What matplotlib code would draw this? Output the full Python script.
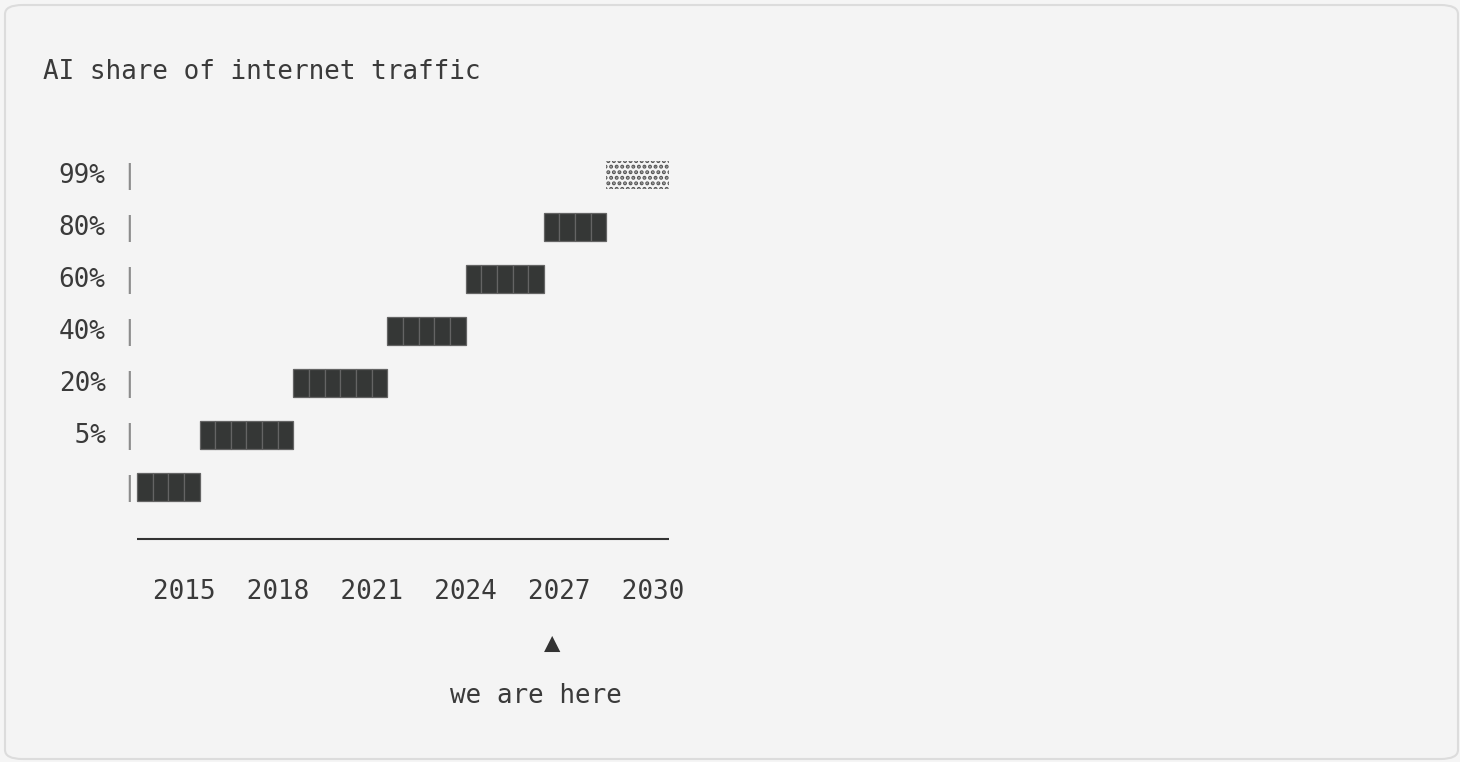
import numpy as np
import matplotlib.pyplot as plt
from matplotlib.patches import FancyBboxPatch

# chart content
title = 'AI share of internet traffic'
row_labels = ['', '5%', '20%', '40%', '60%', '80%', '99%']   # bottom -> top
row_blocks = [4, 6, 6, 5, 5, 4, 4]                           # block count per row
row_shaded = [False, False, False, False, False, False, True]
year_labels = ['2015', '2018', '2021', '2024', '2027', '2030']
marker_col = 32
marker_text = 'we are here'

# text grid: columns of ~15.65px, lines of 52px
W, H = 1460, 762
CW, LH = 15.65, 52.0
X0, Y0 = 43.0, 71.0

fig = plt.figure(figsize=(W / 100, H / 100), dpi=100)
fig.patch.set_facecolor('#f5f5f5')
panel = FancyBboxPatch((5 / W, 3 / H), 1453 / W, 754 / H,
                       boxstyle='round,pad=0,rounding_size=0.012',
                       transform=fig.transFigure, facecolor='#f4f4f4',
                       edgecolor='#dcdcdc', linewidth=1.5, zorder=-10)
fig.patches.append(panel)

ax = fig.add_axes([0, 0, 1, 1])
ax.set_xlim(-X0 / CW, (W - X0) / CW)
ax.set_ylim((H - Y0) / LH, -Y0 / LH)
ax.axis('off')

mono = 'DejaVu Sans Mono'
fs = 18.7
txt = '#3a3a3a'
base = 0.16  # baseline offset below line centre

def put(col, line, s, **kw):
    kw.setdefault('color', txt)
    ax.text(col, line + base, s, family=mono, fontsize=fs, va='baseline', **kw)

put(0, 0, title)

n = len(row_labels)
lines = 8 - np.arange(n)
starts = 6 + np.concatenate([[0], np.cumsum(row_blocks)[:-1]])

plt.rcParams['hatch.linewidth'] = 2.0
for lab, line, st, nb, sh in zip(row_labels, lines, starts, row_blocks, row_shaded):
    if lab:
        put(1, line, f'{lab:>3}')
    put(5, line, '|', color='#8c8c8c')
    if sh:
        ax.barh(line, nb, left=st, height=0.52, align='center',
                facecolor='none', edgecolor='#555555', hatch='...', linewidth=0)
    else:
        ax.barh([line] * nb, np.ones(nb), left=st + np.arange(nb), height=0.52,
                align='center', color='#353736', edgecolor='#646464', linewidth=0.9)

# baseline rule
ax.hlines(9, 6, starts[-1] + row_blocks[-1], color='#333333', linewidth=1.5)

put(7, 10, '  '.join(year_labels))
ax.text(marker_col + 0.5, 11 + 0.15, '▲', family=mono, fontsize=fs * 1.05,
        va='baseline', ha='center', color='#333333')
put(26, 12, marker_text)

fig.savefig('out.png', dpi=100, facecolor=fig.get_facecolor())
plt.close(fig)
